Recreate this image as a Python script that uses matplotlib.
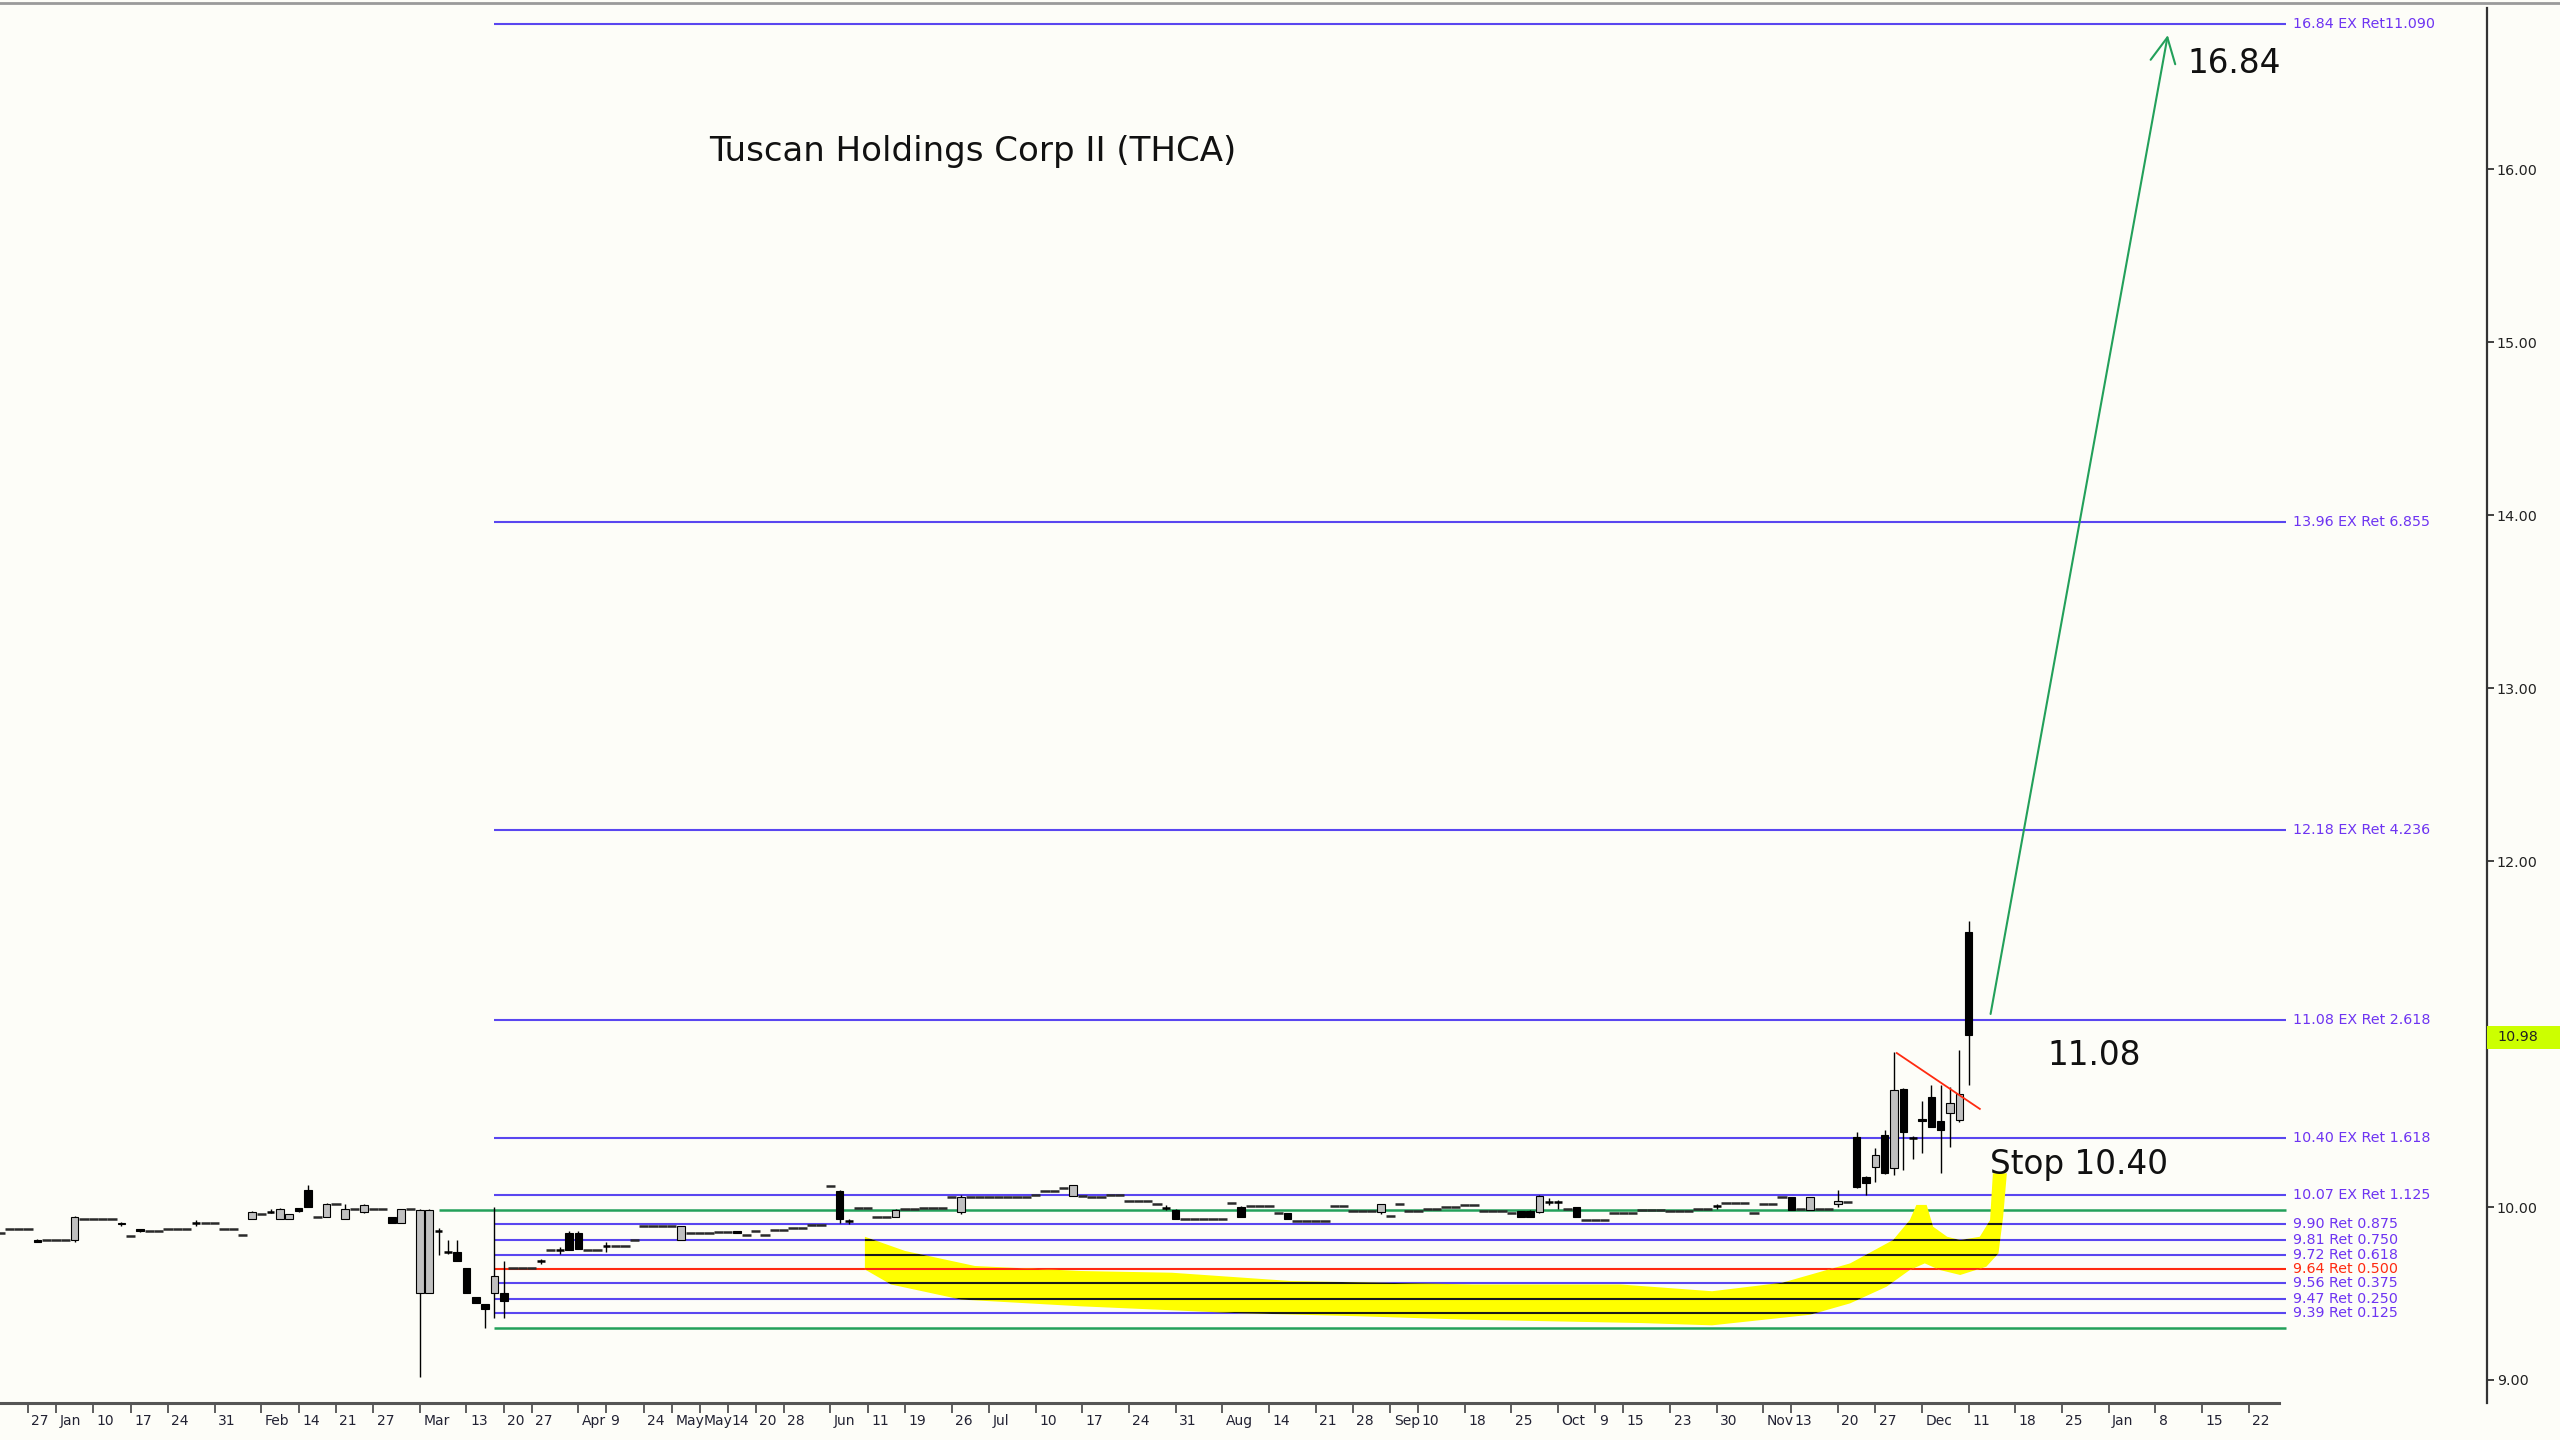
import matplotlib
matplotlib.use('Agg')
import matplotlib.pyplot as plt
import numpy as np
from matplotlib.patches import Polygon, Rectangle
from matplotlib.lines import Line2D
from matplotlib.transforms import blended_transform_factory

# ---- price bars that traded (bar index, OHLC) ----
candle_idx = [4, 8, 13, 15, 21, 27, 29, 30, 31, 32, 33, 35, 37, 39, 42, 43, 45, 46, 47, 48,
              49, 50, 51, 52, 53, 54, 58, 60, 61, 62, 65, 73, 79, 90, 91, 96, 103, 115, 125, 126,
              133, 138, 148, 163, 164, 165, 166, 167, 169, 184, 192, 194, 197, 199, 200, 201, 202,
              203, 204, 205, 206, 207, 208, 209, 210, 211]
candle_open = [9.81, 9.81, 9.90, 9.87, 9.91, 9.93, 9.97, 9.93, 9.93, 9.995, 10.10, 9.94, 9.93, 9.97, 9.94, 9.91, 9.50, 9.50, 9.86, 9.74,
               9.74, 9.65, 9.48, 9.44, 9.50, 9.50, 9.69, 9.75, 9.85, 9.85, 9.775, 9.81, 9.862, 10.095, 9.92, 9.94, 9.97, 10.066, 9.994, 9.983,
               10.002, 9.963, 9.969, 9.975, 9.975, 9.969, 10.03, 10.03, 9.998, 10.008, 10.06, 9.983, 10.017, 10.406, 10.175, 10.233, 10.416,
               10.223, 10.68, 10.40, 10.51, 10.637, 10.50, 10.541, 10.503, 11.591]
candle_high = [9.815, 9.95, 9.915, 9.875, 9.925, 9.975, 9.99, 9.995, 9.96, 9.995, 10.125, 10.025, 10.02, 10.02, 9.945, 9.99, 9.99, 9.99, 9.88, 9.81,
               9.81, 9.65, 9.48, 9.44, 10.00, 9.69, 9.70, 9.77, 9.86, 9.86, 9.80, 9.89, 9.862, 10.10, 9.93, 9.99, 10.07, 10.13, 10.01, 9.99,
               10.005, 9.963, 10.02, 9.975, 9.98, 10.07, 10.05, 10.04, 10.0, 10.02, 10.06, 10.06, 10.10, 10.435, 10.18, 10.34, 10.445,
               10.898, 10.69, 10.41, 10.61, 10.705, 10.705, 10.695, 10.908, 11.655]
candle_low = [9.795, 9.80, 9.89, 9.855, 9.89, 9.93, 9.965, 9.93, 9.93, 9.97, 10.0, 9.94, 9.93, 9.965, 9.91, 9.91, 9.02, 9.50, 9.72, 9.73,
              9.69, 9.50, 9.445, 9.30, 9.36, 9.36, 9.67, 9.73, 9.75, 9.76, 9.74, 9.81, 9.847, 9.91, 9.90, 9.94, 9.96, 10.066, 9.98, 9.93,
              9.944, 9.93, 9.96, 9.944, 9.944, 9.965, 10.01, 9.99, 9.94, 9.99, 9.983, 9.983, 10.0, 10.11, 10.069, 10.146, 10.19,
              10.184, 10.214, 10.28, 10.31, 10.46, 10.194, 10.349, 10.493, 10.705]
candle_close = [9.80, 9.94, 9.905, 9.86, 9.91, 9.97, 9.97, 9.99, 9.96, 9.975, 10.0, 10.02, 9.99, 10.01, 9.91, 9.99, 9.98, 9.98, 9.86, 9.74,
                9.69, 9.50, 9.445, 9.41, 9.60, 9.455, 9.69, 9.75, 9.75, 9.76, 9.775, 9.89, 9.847, 9.93, 9.92, 9.98, 10.056, 10.128, 9.994, 9.93,
                9.944, 9.93, 10.018, 9.944, 9.944, 10.066, 10.03, 10.03, 9.94, 10.008, 9.983, 10.06, 10.036, 10.117, 10.136, 10.30, 10.194,
                10.676, 10.436, 10.40, 10.50, 10.464, 10.445, 10.599, 10.653, 10.994]

# ---- bars with no range (open = high = low = close) ----
flat_idx = [0, 1, 2, 3, 5, 6, 7, 9, 10, 11, 12, 14, 16, 17, 18, 19, 20, 22, 23, 24,
            25, 26, 28, 34, 36, 38, 40, 41, 44, 55, 56, 57, 59, 63, 64, 66, 67, 68, 69, 70,
            71, 72, 74, 75, 76, 77, 78, 80, 81, 82, 83, 84, 85, 86, 87, 88, 89, 92, 93, 94,
            95, 97, 98, 99, 100, 101, 102, 104, 105, 106, 107, 108, 109, 110, 111, 112, 113, 114, 116, 117,
            118, 119, 120, 121, 122, 123, 124, 127, 128, 129, 130, 131, 132, 134, 135, 136, 137, 139, 140, 141,
            142, 143, 144, 145, 146, 147, 149, 150, 151, 152, 153, 154, 155, 156, 157, 158, 159, 160, 161, 162,
            168, 170, 171, 172, 173, 174, 175, 176, 177, 178, 179, 180, 181, 182, 183, 185, 186, 187, 188, 189,
            190, 191, 193, 195, 196, 198]
flat_price = [9.85, 9.87, 9.87, 9.87, 9.81, 9.81, 9.81, 9.93, 9.93, 9.93, 9.93, 9.83, 9.86, 9.86, 9.87, 9.87, 9.87, 9.91, 9.91, 9.87,
              9.87, 9.84, 9.96, 9.94, 10.02, 9.99, 9.99, 9.99, 9.99, 9.65, 9.65, 9.65, 9.75, 9.75, 9.75, 9.775, 9.775, 9.81, 9.89, 9.89,
              9.89, 9.89, 9.85, 9.85, 9.85, 9.853, 9.853, 9.84, 9.86, 9.84, 9.866, 9.866, 9.878, 9.878, 9.897, 9.897, 10.12, 9.994, 9.994, 9.94,
              9.94, 9.988, 9.988, 9.994, 9.994, 9.994, 10.06, 10.06, 10.06, 10.06, 10.06, 10.06, 10.06, 10.06, 10.072, 10.095, 10.095, 10.11, 10.066, 10.056,
              10.056, 10.07, 10.07, 10.033, 10.033, 10.033, 10.018, 9.93, 9.93, 9.93, 9.93, 9.93, 10.021, 10.008, 10.008, 10.008, 9.963, 9.92, 9.92, 9.92,
              9.92, 10.008, 10.008, 9.979, 9.979, 9.979, 9.95, 10.018, 9.979, 9.979, 9.988, 9.988, 9.998, 9.998, 10.014, 10.014, 9.975, 9.975, 9.975, 9.963,
              9.99, 9.925, 9.925, 9.925, 9.963, 9.963, 9.963, 9.983, 9.983, 9.983, 9.979, 9.979, 9.979, 9.988, 9.988, 10.021, 10.021, 10.021, 9.963, 10.018,
              10.018, 10.06, 9.99, 9.99, 9.99, 10.03]

# ---- fibonacci levels ----
fib_levels = [16.84, 13.96, 12.18, 11.08, 10.40, 10.07, 9.90, 9.81, 9.72, 9.64, 9.56, 9.47, 9.39]
fib_labels = ['16.84 EX Ret11.090', '13.96 EX Ret 6.855', '12.18 EX Ret 4.236', '11.08 EX Ret 2.618',
              '10.40 EX Ret 1.618', '10.07 EX Ret 1.125', '9.90 Ret 0.875', '9.81 Ret 0.750',
              '9.72 Ret 0.618', '9.64 Ret 0.500', '9.56 Ret 0.375', '9.47 Ret 0.250', '9.39 Ret 0.125']
range_high, range_low = 9.98, 9.30
last_price = 10.98

# ---- date axis ----
date_ticks = [3, 6, 10, 14, 18, 23, 28, 32, 36, 40, 45, 50, 54, 57, 62, 65, 69, 72, 75, 78,
              81, 84, 89, 93, 97, 102, 106, 111, 116, 121, 126, 131, 136, 141, 145, 149, 152, 157, 162, 167,
              171, 174, 179, 184, 189, 192, 197, 201, 206, 211, 216, 221, 226, 231, 236, 241]
date_labels = ['27', 'Jan', '10', '17', '24', '31', 'Feb', '14', '21', '27', 'Mar', '13', '20', '27', 'Apr', '9',
               '24', 'May', 'May', '14', '20', '28', 'Jun', '11', '19', '26', 'Jul', '10', '17', '24', '31', 'Aug',
               '14', '21', '28', 'Sep', '10', '18', '25', 'Oct', '9', '15', '23', '30', 'Nov', '13', '20', '27',
               'Dec', '11', '18', '25', 'Jan', '8', '15', '22']

# ---- yellow highlight outline (bar index, price) ----
hl_x = [92.7, 97.0, 104.5, 115.8, 125.6, 138.4, 157.9, 173.7, 183.5, 191.0, 198.3, 202.9, 204.7, 205.4,
        206.5, 207.2, 208.7, 210.1, 212.2, 213.3, 213.6, 215.1, 214.7, 214.2, 212.9, 210.1, 207.9, 206.3,
        204.7, 202.2, 198.3, 194.0, 183.5, 176.0, 157.1, 145.9, 132.4, 115.8, 103.0, 95.5, 92.7]
hl_y = [9.828, 9.746, 9.659, 9.630, 9.620, 9.572, 9.552, 9.552, 9.513, 9.562, 9.674, 9.809, 9.925, 10.012,
        10.012, 9.886, 9.828, 9.809, 9.828, 9.925, 10.195, 10.195, 9.944, 9.732, 9.655, 9.607, 9.636, 9.674,
        9.636, 9.539, 9.443, 9.377, 9.316, 9.329, 9.349, 9.368, 9.387, 9.426, 9.465, 9.552, 9.639]

# projection arrow and trend line
arrow_start, arrow_end = (213.3, 11.10), (232.4, 16.79)
trend_x, trend_y = [203.3, 212.2], [10.89, 10.567]

BG = '#fdfdf8'
FIB_BLUE = '#5a46f0'
LABEL_BLUE = '#6e34f2'
RED = '#ff2a10'
GREEN = '#23a05a'

fig = plt.figure(figsize=(25.6, 14.4), dpi=100, facecolor=BG)
ax = fig.add_axes([0, 37 / 1440, 2487 / 2560, 1395 / 1440], facecolor=BG)
ax.set_xlim(0, 266.56)
ax.set_ylim(8.867, 16.931)

fib_start, fib_end = 53, 245

# fib lines
line_colors = [RED if abs(v - 9.64) < 1e-6 else FIB_BLUE for v in fib_levels]
ax.hlines(fib_levels, fib_start, fib_end, colors=line_colors, lw=1.5, zorder=2)
ax.hlines(range_high, 47, fib_end, colors=GREEN, lw=1.8, zorder=2)
ax.hlines(range_low, fib_start, fib_end, colors=GREEN, lw=1.8, zorder=2)
for v, lab, c in zip(fib_levels, fib_labels, line_colors):
    ax.text(fib_end + 0.8, v, lab, fontsize=10.3, color=RED if c == RED else LABEL_BLUE,
            ha='left', va='center', zorder=6)

# yellow highlight, lines look dark through it
poly = Polygon(np.column_stack([hl_x, hl_y]), closed=True, facecolor='#ffff00',
               edgecolor='none', zorder=2.5)
ax.add_patch(poly)
dark = ax.hlines([v for v in fib_levels if v < 10], fib_start, fib_end,
                 colors=[RED if abs(v - 9.64) < 1e-6 else '#1a1a1a' for v in fib_levels if v < 10],
                 lw=1.5, zorder=2.6)
dark.set_clip_path(poly)

# flat bars
fx = np.array(flat_idx)
ax.hlines(flat_price, fx - 0.5, fx + 0.5, colors='#2a2a2a', lw=1.8, zorder=4)

# candles
for x, o, h, l, c in zip(candle_idx, candle_open, candle_high, candle_low, candle_close):
    ax.vlines(x, l, h, colors='black', lw=1.0, zorder=4)
    if abs(c - o) < 0.004:
        ax.hlines(o, x - 0.42, x + 0.42, colors='black', lw=1.8, zorder=5)
    else:
        fill = '#c0c0c0' if c > o else 'black'
        ax.bar(x, abs(c - o), bottom=min(o, c), width=0.8, color=fill,
               edgecolor='black', lw=0.8, zorder=5)

# trend line and projection arrow
ax.plot(trend_x, trend_y, color=RED, lw=1.3, zorder=6)
ax.annotate('', xy=arrow_end, xytext=arrow_start,
            arrowprops=dict(arrowstyle='->,head_length=0.9,head_width=0.45',
                            mutation_scale=20, color=GREEN, lw=1.5), zorder=6)

# annotations
ax.text(76, 16.10, 'Tuscan Holdings Corp II (THCA)', fontsize=24.5, color='#111111',
        ha='left', va='center')
ax.text(234.5, 16.61, '16.84', fontsize=23.5, color='#111111', ha='left', va='center')
ax.text(219.4, 10.875, '11.08', fontsize=23.5, color='#111111', ha='left', va='center')
ax.text(213.3, 10.245, 'Stop 10.40', fontsize=23.5, color='#111111', ha='left', va='center', zorder=7)

# axes styling
for side in ['left', 'top', 'bottom']:
    ax.spines[side].set_visible(False)
ax.spines['right'].set_color('#333333')
ax.spines['right'].set_linewidth(1.6)

ax.yaxis.tick_right()
ax.set_yticks([9, 10, 12, 13, 14, 15, 16])
ax.set_yticklabels([f'{v:.2f}' for v in [9, 10, 12, 13, 14, 15, 16]])
ax.tick_params(axis='y', length=5, width=1.2, pad=2, labelsize=10.3, colors='#222222')

ax.set_xticks(date_ticks)
ax.set_xticklabels([])
ax.tick_params(axis='x', length=7, width=1.2, direction='out', color='#444444')
ax.plot([0, 244.3], [8.867, 8.867], color='#555555', lw=2.2, clip_on=False, zorder=8)
for x, s in zip(date_ticks, date_labels):
    ax.annotate(s, xy=(x, 0), xycoords=('data', 'axes fraction'), xytext=(2.5, -13),
                textcoords='offset points', ha='left', va='center', fontsize=10,
                color='#222233', annotation_clip=False)

# current price marker
trans = blended_transform_factory(ax.transAxes, ax.transData)
ax.add_patch(Rectangle((1.0, last_price - 0.065), 0.031, 0.13, transform=trans,
                       facecolor='#ccff00', edgecolor='none', clip_on=False, zorder=10))
ax.text(1.004, last_price, f'{last_price:.2f}', transform=trans, fontsize=10.3,
        color='#222222', ha='left', va='center', zorder=11, clip_on=False)

# top frame line
fig.add_artist(Line2D([0, 1], [1 - 3 / 1440] * 2, transform=fig.transFigure,
                      color='#9a9a9a', lw=2))

fig.savefig('out.png', dpi=100, facecolor=BG)
plt.close(fig)
